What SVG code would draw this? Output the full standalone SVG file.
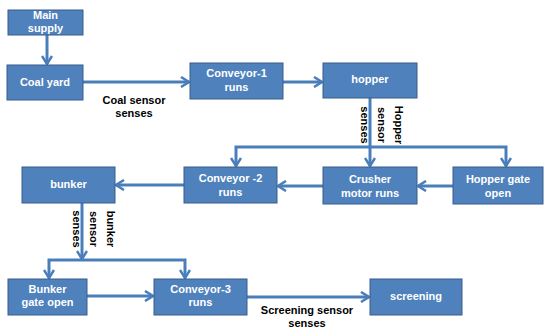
<svg xmlns="http://www.w3.org/2000/svg" width="547" height="328" viewBox="0 0 547 328">
<style>
.box{fill:#4F81BD;stroke:#385D8A;stroke-width:1}
.t{font-family:"Liberation Sans",Arial,sans-serif;font-weight:bold;font-size:11px;fill:#fff;text-anchor:middle}
.l{font-family:"Liberation Sans",Arial,sans-serif;font-weight:bold;font-size:11px;fill:#000;text-anchor:middle}
.c{fill:none;stroke:#4A7EBB;stroke-width:3}
</style>
<defs>
<marker id="ah" viewBox="0 0 12 12" refX="10" refY="6" markerWidth="12" markerHeight="12" markerUnits="userSpaceOnUse" orient="auto">
<path d="M2,1 L10,6 L2,11" fill="none" stroke="#4A7EBB" stroke-width="2.5"/>
</marker>
</defs>
<rect width="547" height="328" fill="#fff"/>
<g id="connectors">
<path class="c" d="M47,35 V64" marker-end="url(#ah)"/>
<path class="c" d="M83,82 H189" marker-end="url(#ah)"/>
<path class="c" d="M283,82 H322" marker-end="url(#ah)"/>
<path class="c" d="M370,98 V166" marker-end="url(#ah)"/>
<path class="c" d="M370,147 H236 V166" marker-end="url(#ah)"/>
<path class="c" d="M370,147 H506 V166" marker-end="url(#ah)"/>
<path class="c" d="M453,186 H418" marker-end="url(#ah)"/>
<path class="c" d="M323,186 H278" marker-end="url(#ah)"/>
<path class="c" d="M184,185 H116" marker-end="url(#ah)"/>
<path class="c" d="M82,203 V259" marker-end="url(#ah)"/>
<path class="c" d="M82,260 H49 V278" marker-end="url(#ah)"/>
<path class="c" d="M82,260 H185 V278" marker-end="url(#ah)"/>
<path class="c" d="M87,296 H153" marker-end="url(#ah)"/>
<path class="c" d="M247,297 H369" marker-end="url(#ah)"/>
<text class="l" x="134" y="104">Coal sensor</text>
<text class="l" x="134" y="117">senses</text>
<text class="l" transform="translate(395,125) rotate(90)" y="0" x="0">Hopper</text>
<text class="l" transform="translate(378,125) rotate(90)" y="0" x="0">sensor</text>
<text class="l" transform="translate(361,125) rotate(90)" y="0" x="0">senses</text>
<text class="l" transform="translate(107,229) rotate(90)" y="0" x="0">bunker</text>
<text class="l" transform="translate(90,229) rotate(90)" y="0" x="0">sensor</text>
<text class="l" transform="translate(73,229) rotate(90)" y="0" x="0">senses</text>
<text class="l" x="307" y="314">Screening sensor</text>
<text class="l" x="307" y="327">senses</text>
</g>
<g id="main-supply"><rect class="box" x="8" y="10" width="75" height="25"/><text class="t" x="45.5" y="19">Main</text><text class="t" x="45.5" y="32">supply</text></g>
<g id="coal-yard"><rect class="box" x="7" y="65" width="76" height="35"/><text class="t" x="45" y="86">Coal yard</text></g>
<g id="conveyor-1"><rect class="box" x="190" y="63" width="93" height="36"/><text class="t" x="236.5" y="77">Conveyor-1</text><text class="t" x="236.5" y="91">runs</text></g>
<g id="hopper"><rect class="box" x="323" y="63" width="94" height="35"/><text class="t" x="370" y="83">hopper</text></g>
<g id="crusher"><rect class="box" x="323" y="167" width="94" height="37"/><text class="t" x="370" y="183">Crusher</text><text class="t" x="370" y="197">motor runs</text></g>
<g id="hopper-gate"><rect class="box" x="453" y="167" width="90" height="37"/><text class="t" x="498" y="183">Hopper gate</text><text class="t" x="498" y="197">open</text></g>
<g id="conveyor-2"><rect class="box" x="184" y="167" width="93" height="36"/><text class="t" x="230.5" y="182">Conveyor -2</text><text class="t" x="230.5" y="196">runs</text></g>
<g id="bunker"><rect class="box" x="22" y="167" width="93" height="36"/><text class="t" x="68.5" y="188">bunker</text></g>
<g id="bunker-gate"><rect class="box" x="8" y="279" width="79" height="36"/><text class="t" x="47.5" y="293">Bunker</text><text class="t" x="47.5" y="306">gate open</text></g>
<g id="conveyor-3"><rect class="box" x="154" y="279" width="93" height="36"/><text class="t" x="200.5" y="293">Conveyor-3</text><text class="t" x="200.5" y="306">runs</text></g>
<g id="screening"><rect class="box" x="370" y="279" width="92" height="36"/><text class="t" x="416" y="300">screening</text></g>
</svg>
